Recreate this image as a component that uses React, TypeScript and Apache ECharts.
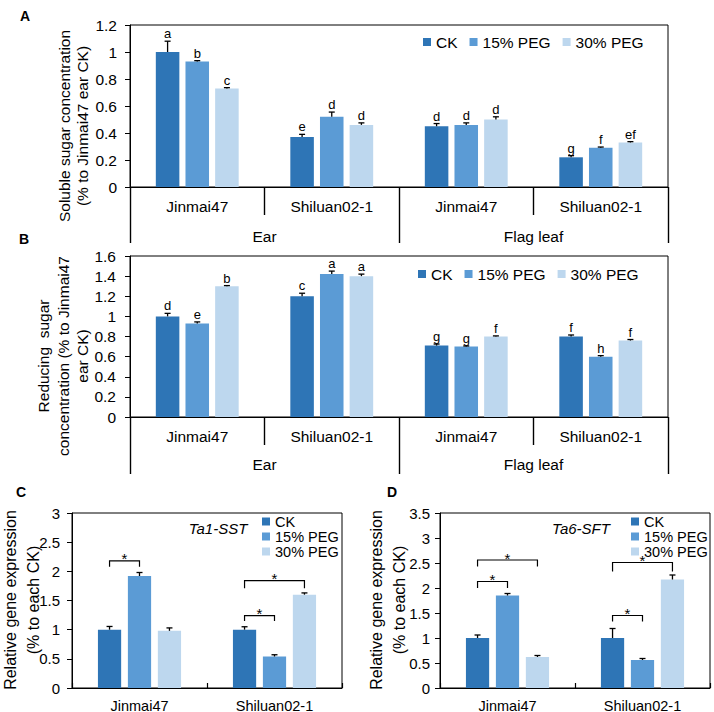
import React, { useEffect, useRef } from "react";
import * as echarts from "echarts";

// ---------- data ----------
const treatments = ["CK", "15% PEG", "30% PEG"];
const cultivarsAB = ["Jinmai47", "Shiluan02-1", "Jinmai47", "Shiluan02-1"];
const tissues = ["Ear", "Flag leaf"];
const cultivarsCD = ["Jinmai47", "Shiluan02-1"];

// Panel A: soluble sugar
const solubleCK = [1.0, 0.37, 0.45, 0.22];
const soluble15 = [0.93, 0.52, 0.46, 0.29];
const soluble30 = [0.73, 0.46, 0.5, 0.33];
const solubleErrCK = [0.08, 0.02, 0.02, 0.012];
const solubleErr15 = [0.006, 0.035, 0.015, 0.006];
const solubleErr30 = [0.006, 0.015, 0.02, 0.006];
const solubleLetCK = ["a", "e", "d", "g"];
const solubleLet15 = ["b", "d", "d", "f"];
const solubleLet30 = ["c", "d", "d", "ef"];

// Panel B: reducing sugar
const reducingCK = [1.0, 1.2, 0.71, 0.8];
const reducing15 = [0.93, 1.42, 0.7, 0.6];
const reducing30 = [1.3, 1.4, 0.8, 0.76];
const reducingErrCK = [0.03, 0.03, 0.015, 0.015];
const reducingErr15 = [0.015, 0.03, 0.006, 0.01];
const reducingErr30 = [0.006, 0.02, 0.006, 0.01];
const reducingLetCK = ["d", "c", "g", "f"];
const reducingLet15 = ["e", "a", "g", "h"];
const reducingLet30 = ["b", "a", "f", "f"];

// Panel C: Ta1-SST
const sstCK = [1.0, 1.0];
const sst15 = [1.92, 0.54];
const sst30 = [0.98, 1.6];
const sstErrCK = [0.055, 0.05];
const sstErr15 = [0.06, 0.03];
const sstErr30 = [0.05, 0.03];
// [category, fromTreatment, toTreatment, bracketTop, bracketFoot]
const sstBrackets = [
  [0, 0, 1, 2.18, 2.08],
  [1, 0, 2, 1.84, 1.71],
  [1, 0, 1, 1.24, 1.15],
];

// Panel D: Ta6-SFT
const sftCK = [1.0, 1.0];
const sft15 = [1.85, 0.56];
const sft30 = [0.62, 2.17];
const sftErrCK = [0.06, 0.19];
const sftErr15 = [0.04, 0.03];
const sftErr30 = [0.03, 0.09];
const sftBrackets = [
  [0, 0, 1, 2.13, 2.0],
  [0, 0, 2, 2.56, 2.43],
  [1, 0, 2, 2.51, 2.33],
  [1, 0, 1, 1.45, 1.33],
];

// ---------- styling ----------
const colors = ["#2E75B6", "#5B9BD5", "#BDD7EE"];
const FONT = "'Liberation Sans', Arial, Helvetica, sans-serif";
const BLACK = "#000";

type Panel = {
  grid: any;
  xAxisIndex: number;
  yAxisIndex: number;
  values: number[][];
  errs: number[][];
  letters: string[][] | null;
  brackets: number[][] | null;
  barFrac: number;
  gapFrac: number;
};

const panels: Panel[] = [
  {
    grid: { left: 130, top: 25, width: 538, height: 162 },
    xAxisIndex: 0,
    yAxisIndex: 0,
    values: [solubleCK, soluble15, soluble30],
    errs: [solubleErrCK, solubleErr15, solubleErr30],
    letters: [solubleLetCK, solubleLet15, solubleLet30],
    brackets: null,
    barFrac: 0.175,
    gapFrac: 0.26,
  },
  {
    grid: { left: 130, top: 256, width: 538, height: 161 },
    xAxisIndex: 2,
    yAxisIndex: 1,
    values: [reducingCK, reducing15, reducing30],
    errs: [reducingErrCK, reducingErr15, reducingErr30],
    letters: [reducingLetCK, reducingLet15, reducingLet30],
    brackets: null,
    barFrac: 0.175,
    gapFrac: 0.26,
  },
  {
    grid: { left: 72, top: 513, width: 270, height: 175 },
    xAxisIndex: 4,
    yAxisIndex: 2,
    values: [sstCK, sst15, sst30],
    errs: [sstErrCK, sstErr15, sstErr30],
    letters: null,
    brackets: sstBrackets,
    barFrac: 0.172,
    gapFrac: 0.29,
  },
  {
    grid: { left: 440, top: 513, width: 270, height: 175 },
    xAxisIndex: 5,
    yAxisIndex: 3,
    values: [sftCK, sft15, sft30],
    errs: [sftErrCK, sftErr15, sftErr30],
    letters: null,
    brackets: sftBrackets,
    barFrac: 0.172,
    gapFrac: 0.29,
  },
];

function catAxis(gridIndex: number, data: string[], opts: any) {
  return {
    type: "category",
    gridIndex,
    data,
    position: "bottom",
    boundaryGap: true,
    axisLine: { show: true, lineStyle: { color: BLACK, width: 1 } },
    axisTick: { show: true, lineStyle: { color: BLACK, width: 1.4 } },
    axisLabel: { interval: 0, color: BLACK, fontFamily: FONT },
    splitLine: { show: false },
    ...opts,
  };
}

function valAxis(gridIndex: number, max: number, interval: number, fontSize: number, margin: number) {
  return {
    type: "value",
    gridIndex,
    min: 0,
    max,
    interval,
    axisLine: { show: true, lineStyle: { color: BLACK, width: 1 } },
    axisTick: { show: true, inside: false, length: 5, lineStyle: { color: BLACK } },
    axisLabel: { color: BLACK, fontSize, margin, fontFamily: FONT },
    splitLine: { show: false },
  };
}

function buildOption() {
  const series: any[] = [];
  panels.forEach((p) => {
    p.values.forEach((vals, s) => {
      series.push({
        name: treatments[s],
        type: "bar",
        xAxisIndex: p.xAxisIndex,
        yAxisIndex: p.yAxisIndex,
        data: vals,
        barWidth: (p.barFrac * 100).toFixed(1) + "%",
        barGap: (p.gapFrac * 100).toFixed(0) + "%",
        itemStyle: { color: colors[s] },
        emphasis: { disabled: true },
      });
    });
    p.values.forEach((vals, s) => {
      const letters = p.letters ? p.letters[s] : null;
      series.push({
        type: "custom",
        xAxisIndex: p.xAxisIndex,
        yAxisIndex: p.yAxisIndex,
        data: vals.map((v, i) => [i, v, p.errs[s][i], s]),
        encode: { x: 0, y: 1 },
        z: 5,
        renderItem: (params: any, api: any) => {
          const cat = api.value(0);
          const v = api.value(1);
          const e = api.value(2);
          const si = api.value(3);
          const catW = api.size([1, 0])[0];
          const bw = catW * p.barFrac;
          const gap = bw * p.gapFrac;
          const base = api.coord([cat, v]);
          const top = api.coord([cat, v + e]);
          const x = base[0] + (si - 1) * (bw + gap);
          const children: any[] = [
            {
              type: "line",
              shape: { x1: x, y1: base[1], x2: x, y2: top[1] },
              style: { stroke: BLACK, lineWidth: 1.3 },
            },
            {
              type: "line",
              shape: { x1: x - 3, y1: top[1], x2: x + 3, y2: top[1] },
              style: { stroke: BLACK, lineWidth: 1.3 },
            },
          ];
          if (letters) {
            children.push({
              type: "text",
              x: x,
              y: top[1] - 1,
              style: {
                text: letters[params.dataIndex],
                fill: BLACK,
                fontSize: 13,
                fontFamily: FONT,
                align: "center",
                verticalAlign: "bottom",
              },
            });
          }
          return { type: "group", children };
        },
      });
    });
    if (p.brackets) {
      series.push({
        type: "custom",
        xAxisIndex: p.xAxisIndex,
        yAxisIndex: p.yAxisIndex,
        data: p.brackets,
        encode: { x: 0, y: 3 },
        z: 6,
        renderItem: (params: any, api: any) => {
          const cat = api.value(0);
          const from = api.value(1);
          const to = api.value(2);
          const topV = api.value(3);
          const footV = api.value(4);
          const catW = api.size([1, 0])[0];
          const bw = catW * p.barFrac;
          const gap = bw * p.gapFrac;
          const t = api.coord([cat, topV]);
          const f = api.coord([cat, footV]);
          const x1 = t[0] + (from - 1) * (bw + gap);
          const x2 = t[0] + (to - 1) * (bw + gap);
          return {
            type: "group",
            children: [
              {
                type: "polyline",
                shape: { points: [[x1, f[1]], [x1, t[1]], [x2, t[1]], [x2, f[1]]] },
                style: { stroke: BLACK, lineWidth: 1.2, fill: "none" },
              },
              {
                type: "text",
                x: (x1 + x2) / 2,
                y: t[1] - 2,
                style: {
                  text: "*",
                  fill: BLACK,
                  fontSize: 15,
                  fontFamily: FONT,
                  align: "center",
                  verticalAlign: "middle",
                },
              },
            ],
          };
        },
      });
    }
  });

  const gridStyle = { show: true, borderColor: BLACK, borderWidth: 1, containLabel: false, outerBoundsMode: "none" };

  const xAxis = [
    catAxis(0, cultivarsAB, {
      axisTick: { show: true, length: 28, lineStyle: { color: BLACK, width: 1.4 } },
      axisLabel: { interval: 0, color: BLACK, fontSize: 15.5, margin: 11, fontFamily: FONT },
    }),
    catAxis(0, tissues, {
      offset: 28,
      axisLine: { show: false },
      axisTick: { show: true, length: 28, lineStyle: { color: BLACK, width: 1.4 } },
      axisLabel: { interval: 0, color: BLACK, fontSize: 15.5, margin: 13, fontFamily: FONT },
    }),
    catAxis(1, cultivarsAB, {
      axisTick: { show: true, length: 28, lineStyle: { color: BLACK, width: 1.4 } },
      axisLabel: { interval: 0, color: BLACK, fontSize: 15.5, margin: 11, fontFamily: FONT },
    }),
    catAxis(1, tissues, {
      offset: 28,
      axisLine: { show: false },
      axisTick: { show: true, length: 29, lineStyle: { color: BLACK, width: 1.4 } },
      axisLabel: { interval: 0, color: BLACK, fontSize: 15.5, margin: 11, fontFamily: FONT },
    }),
    catAxis(2, cultivarsCD, {
      axisTick: { show: true, inside: true, length: 5, lineStyle: { color: BLACK, width: 1.2 } },
      axisLabel: { interval: 0, color: BLACK, fontSize: 14.5, margin: 10, fontFamily: FONT },
    }),
    catAxis(3, cultivarsCD, {
      axisTick: { show: true, inside: true, length: 5, lineStyle: { color: BLACK, width: 1.2 } },
      axisLabel: { interval: 0, color: BLACK, fontSize: 14.5, margin: 10, fontFamily: FONT },
    }),
  ];

  const yAxis = [
    valAxis(0, 1.2, 0.2, 15.5, 13),
    valAxis(1, 1.6, 0.2, 15.5, 14),
    valAxis(2, 3, 0.5, 15, 12),
    valAxis(3, 3.5, 0.5, 15, 10),
  ];

  const legendBase = {
    data: treatments,
    icon: "rect",
    itemWidth: 8,
    itemHeight: 8,
    padding: 0,
    selectedMode: false,
  };

  const legend = [
    { ...legendBase, orient: "horizontal", left: 423, top: 34, itemGap: 12, textStyle: { fontSize: 15.5, color: BLACK, fontFamily: FONT } },
    { ...legendBase, orient: "horizontal", left: 418, top: 266, itemGap: 12, textStyle: { fontSize: 15.5, color: BLACK, fontFamily: FONT } },
    { ...legendBase, orient: "vertical", left: 262, top: 514, itemGap: 0, textStyle: { fontSize: 14.5, lineHeight: 15, color: BLACK, fontFamily: FONT } },
    { ...legendBase, orient: "vertical", left: 631, top: 514, itemGap: 0, textStyle: { fontSize: 14.5, lineHeight: 15, color: BLACK, fontFamily: FONT } },
  ];

  const txt = (x: number, y: number, text: string, extra: any = {}, rot = 0) => ({
    type: "text",
    x,
    y,
    rotation: rot,
    style: {
      text,
      fill: BLACK,
      fontFamily: FONT,
      align: "center",
      verticalAlign: "middle",
      textAlign: "center",
      textVerticalAlign: "middle",
      ...extra,
    },
  });

  const graphic = [
    txt(25, 16, "A", { fontSize: 14, fontWeight: "bold" }),
    txt(24, 239, "B", { fontSize: 14, fontWeight: "bold" }),
    txt(21, 492, "C", { fontSize: 14, fontWeight: "bold" }),
    txt(392, 492, "D", { fontSize: 14, fontWeight: "bold" }),
    txt(73.5, 126, "Soluble sugar concentration\n(% to Jinmai47 ear CK)", { fontSize: 15.5, lineHeight: 18 }, Math.PI / 2),
    txt(63, 356, "Reducing  sugar\nconcentration (% to Jinmai47\near CK)", { fontSize: 15.5, lineHeight: 19.5 }, Math.PI / 2),
    txt(22, 600, "Relative gene expression\n(% to each CK)", { fontSize: 16, lineHeight: 23 }, Math.PI / 2),
    txt(387.5, 600, "Relative gene expression\n(% to each CK)", { fontSize: 16, lineHeight: 23 }, Math.PI / 2),
    txt(218, 528, "Ta1-SST", { fontSize: 15, fontStyle: "italic" }),
    txt(581, 528, "Ta6-SFT", { fontSize: 15, fontStyle: "italic" }),
  ];

  return {
    animation: false,
    backgroundColor: "#fff",
    textStyle: { fontFamily: FONT, color: BLACK },
    grid: panels.map((p) => ({ ...gridStyle, ...p.grid })),
    xAxis,
    yAxis,
    legend,
    graphic,
    series,
  };
}

export default function App() {
  const ref = useRef<HTMLDivElement>(null);
  useEffect(() => {
    if (!ref.current) return;
    const chart = echarts.init(ref.current, undefined, { renderer: "svg" });
    chart.setOption(buildOption() as any);
    return () => chart.dispose();
  }, []);
  return (
    <div
      ref={ref}
      style={{ position: "fixed", left: 0, top: 0, width: 714, height: 712, background: "#fff" }}
    />
  );
}
